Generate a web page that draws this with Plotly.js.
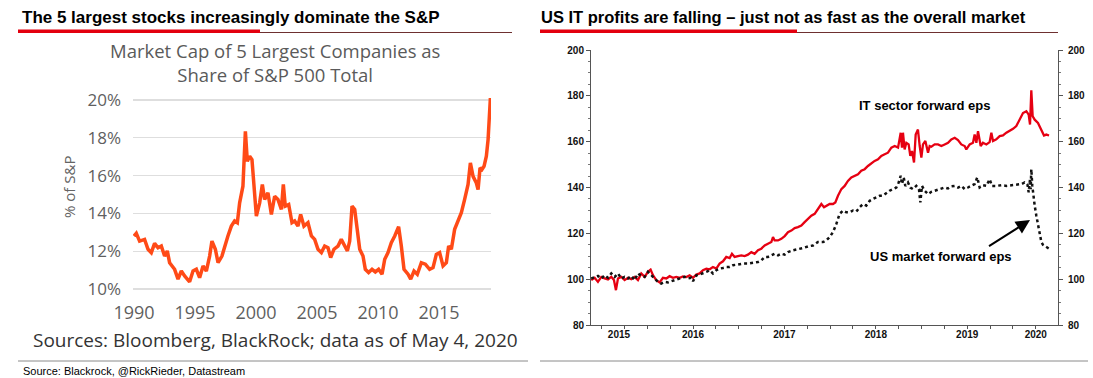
<!DOCTYPE html>
<html><head><meta charset="utf-8">
<script src="https://cdn.plot.ly/plotly-3.0.1.min.js"></script>
<style>html,body{margin:0;padding:0;background:#fff}#chart{width:1093px;height:378px}</style>
</head><body><div id="chart"></div>
<script>
// ---- Left panel: market cap share of 5 largest companies ----
const shareYears = [1990.0,1990.19,1990.46,1990.87,1991.15,1991.42,1991.69,1991.97,1992.24,1992.51,1992.73,1992.92,1993.33,1993.61,1993.88,1994.15,1994.56,1994.84,1995.11,1995.38,1995.66,1995.93,1996.20,1996.39,1996.67,1996.89,1997.21,1997.49,1997.70,1997.98,1998.25,1998.47,1998.66,1998.93,1999.13,1999.29,1999.48,1999.67,1999.84,2000.03,2000.30,2000.52,2000.71,2000.98,2001.26,2001.53,2001.80,2002.08,2002.24,2002.40,2002.68,2002.95,2003.17,2003.44,2003.66,2003.93,2004.26,2004.54,2004.81,2005.08,2005.36,2005.63,2005.90,2006.12,2006.39,2006.72,2006.99,2007.27,2007.49,2007.68,2007.87,2008.09,2008.31,2008.50,2008.77,2008.96,2009.23,2009.51,2009.78,2010.05,2010.33,2010.55,2010.82,2011.09,2011.37,2011.69,2011.91,2012.13,2012.46,2012.68,2012.95,2013.22,2013.55,2013.88,2014.23,2014.51,2014.78,2015.05,2015.33,2015.60,2015.79,2016.01,2016.28,2016.56,2016.83,2017.10,2017.38,2017.57,2017.79,2018.06,2018.20,2018.36,2018.52,2018.69,2018.88,2019.02,2019.21];
const sharePct = [12.81,12.95,12.54,12.63,12.11,11.93,12.42,12.19,12.28,11.75,12.02,11.40,11.05,10.53,10.96,10.70,10.39,10.96,11.05,10.61,11.23,10.96,11.75,12.54,12.11,11.40,11.75,12.46,12.81,13.33,13.60,13.51,14.56,15.44,18.33,16.75,17.02,16.84,15.26,13.86,14.56,15.53,14.74,15.09,13.95,14.91,14.74,14.21,15.53,14.39,14.47,13.51,13.60,13.33,13.95,13.33,13.51,12.81,12.63,12.11,11.93,12.28,12.19,11.67,12.11,12.28,12.63,12.28,12.02,12.54,14.39,14.21,13.16,12.11,11.75,11.05,10.88,11.05,10.91,11.05,10.79,11.58,11.93,12.46,12.81,13.30,12.28,11.05,10.79,10.53,10.96,10.79,11.40,11.32,11.05,11.14,11.84,11.93,11.23,11.40,12.28,12.11,13.16,13.68,14.04,14.74,15.53,16.67,15.96,15.61,15.26,16.40,16.32,16.49,17.02,17.89,20.09];
const shareTickYears = [1990,1995,2000,2005,2010,2015];
const shareTickPct = [10,12,14,16,18,20];

// ---- Right panel: forward EPS indexed ----
const epsDatesIT = [2015.387,2015.424,2015.460,2015.497,2015.533,2015.570,2015.606,2015.635,2015.657,2015.679,2015.716,2015.752,2015.788,2015.825,2015.861,2015.898,2015.934,2015.971,2016.007,2016.036,2016.062,2016.098,2016.135,2016.171,2016.208,2016.244,2016.281,2016.317,2016.354,2016.390,2016.427,2016.463,2016.500,2016.536,2016.573,2016.609,2016.646,2016.682,2016.718,2016.755,2016.791,2016.828,2016.864,2016.901,2016.926,2016.955,2016.992,2017.028,2017.065,2017.101,2017.138,2017.174,2017.211,2017.247,2017.284,2017.320,2017.357,2017.375,2017.393,2017.430,2017.466,2017.503,2017.539,2017.576,2017.612,2017.648,2017.685,2017.721,2017.758,2017.794,2017.831,2017.867,2017.904,2017.933,2017.958,2017.995,2018.031,2018.057,2018.086,2018.123,2018.159,2018.195,2018.232,2018.268,2018.305,2018.341,2018.378,2018.414,2018.451,2018.487,2018.524,2018.560,2018.597,2018.633,2018.670,2018.706,2018.743,2018.772,2018.786,2018.797,2018.815,2018.834,2018.859,2018.877,2018.896,2018.918,2018.936,2018.961,2018.980,2018.998,2019.016,2019.042,2019.071,2019.089,2019.107,2019.144,2019.180,2019.217,2019.253,2019.290,2019.326,2019.363,2019.399,2019.435,2019.472,2019.490,2019.527,2019.563,2019.581,2019.600,2019.618,2019.647,2019.672,2019.709,2019.745,2019.764,2019.782,2019.818,2019.855,2019.891,2019.928,2019.964,2020.001,2020.037,2020.074,2020.110,2020.147,2020.172,2020.187,2020.201,2020.216,2020.238,2020.274,2020.311,2020.340,2020.365,2020.395];
const epsIT = [99.6,100.6,98.8,101.0,100.3,99.9,101.0,99.6,95.2,100.3,101.0,99.6,100.6,100.0,101.0,99.6,102.5,101.0,103.2,104.2,101.7,99.6,98.6,100.6,100.3,101.3,100.6,101.0,100.6,101.2,100.9,101.7,100.6,102.0,102.5,103.9,104.6,104.3,105.3,104.6,106.8,107.8,109.7,109.2,111.1,109.7,110.1,110.4,110.1,110.7,111.8,111.1,112.6,113.3,114.7,115.5,116.2,118.4,116.9,116.9,117.6,118.8,120.5,121.2,122.3,122.7,123.4,124.9,126.3,127.7,128.5,130.6,132.8,131.4,132.1,132.8,132.8,133.5,136.4,139.3,140.7,142.9,144.4,145.1,145.8,147.3,148.0,149.4,150.6,151.6,152.3,153.8,154.5,155.2,157.4,158.1,157.4,163.9,157.4,163.9,156.6,159.5,158.8,153.8,155.9,150.9,163.1,165.3,158.1,153.0,158.8,160.3,155.2,158.1,157.8,158.8,158.8,158.1,158.8,159.5,161.0,161.7,160.7,158.8,158.1,156.6,158.8,159.5,163.1,159.5,164.6,158.1,159.5,158.8,159.8,163.9,160.3,161.0,162.4,162.7,163.9,164.6,165.6,166.8,169.6,172.5,173.3,171.8,167.5,182.4,171.1,169.6,168.2,165.3,162.7,163.1,162.7];
const epsDatesMkt = [2015.387,2015.424,2015.460,2015.497,2015.533,2015.570,2015.606,2015.643,2015.679,2015.716,2015.752,2015.788,2015.825,2015.861,2015.898,2015.934,2015.971,2016.007,2016.044,2016.080,2016.117,2016.153,2016.190,2016.226,2016.263,2016.299,2016.336,2016.372,2016.408,2016.445,2016.481,2016.500,2016.536,2016.573,2016.609,2016.646,2016.682,2016.718,2016.755,2016.791,2016.828,2016.864,2016.901,2016.937,2016.992,2017.047,2017.101,2017.156,2017.211,2017.247,2017.284,2017.320,2017.357,2017.393,2017.430,2017.466,2017.503,2017.539,2017.594,2017.648,2017.703,2017.758,2017.813,2017.867,2017.922,2017.958,2017.995,2018.031,2018.068,2018.104,2018.141,2018.177,2018.214,2018.250,2018.287,2018.323,2018.360,2018.396,2018.433,2018.469,2018.505,2018.542,2018.578,2018.615,2018.651,2018.688,2018.724,2018.750,2018.772,2018.786,2018.805,2018.823,2018.852,2018.877,2018.907,2018.943,2018.972,2018.987,2019.005,2019.034,2019.071,2019.107,2019.144,2019.180,2019.217,2019.253,2019.290,2019.326,2019.363,2019.399,2019.435,2019.472,2019.508,2019.545,2019.581,2019.610,2019.636,2019.672,2019.709,2019.745,2019.771,2019.818,2019.873,2019.928,2019.982,2020.037,2020.092,2020.128,2020.158,2020.172,2020.187,2020.194,2020.201,2020.212,2020.223,2020.238,2020.256,2020.274,2020.293,2020.311,2020.329,2020.365,2020.395];
const epsMkt = [100.3,101.0,101.4,100.3,101.7,100.6,102.5,101.0,102.5,100.3,101.0,100.3,101.4,99.6,102.5,101.4,101.0,103.2,101.7,100.6,98.8,98.1,98.8,98.6,99.1,99.6,100.3,100.6,101.0,100.3,100.6,99.1,101.7,102.0,102.5,103.2,103.9,102.5,103.9,104.6,104.9,105.3,105.3,106.1,106.4,106.8,106.8,107.2,107.5,108.2,109.7,109.7,110.4,111.1,110.4,111.1,110.7,111.8,112.6,113.0,113.6,114.3,114.7,116.2,116.2,116.9,118.4,120.5,124.1,128.5,129.9,129.2,129.2,129.9,129.5,131.4,132.8,132.1,134.2,135.0,135.7,136.4,136.4,137.6,138.6,139.3,140.0,142.2,145.1,141.5,144.4,140.7,142.2,140.0,139.3,140.7,139.3,133.5,140.7,138.6,137.1,138.1,138.6,139.0,139.3,140.0,139.6,140.5,140.7,140.0,140.7,139.3,140.0,140.7,141.5,144.4,140.0,141.0,140.7,143.6,140.7,140.7,141.0,140.7,141.0,141.5,141.5,142.2,141.5,137.9,143.6,139.3,148.0,140.7,136.4,132.1,127.7,123.4,119.8,116.2,115.0,114.0,113.3];
const epsYearLabels = ['2015','2016','2017','2018','2019','2020'];
const epsYearLabelPos = [2015.69,2016.5,2017.5,2018.5,2019.5,2020.25];

// ---- layout helpers (pixel -> paper) ----
const W = 1093, H = 378;
const fx = p => p / W;
const fy = p => 1 - p / H;

const grayFontY = {family: 'Open Sans', size: 17, color: '#5f5f5f'};
const grayFontX = {family: 'Open Sans', size: 18, color: '#5f5f5f'};
const boldSmall = {family: 'Liberation Sans, Arial', size: 10, color: '#111', weight: 'bold'};

const traces = [
  {x: shareYears, y: sharePct, type: 'scatter', mode: 'lines', xaxis: 'x', yaxis: 'y',
   line: {color: '#ff4a17', width: 3.5}, hoverinfo: 'skip'},
  {x: epsDatesIT, y: epsIT, type: 'scatter', mode: 'lines', xaxis: 'x2', yaxis: 'y3',
   line: {color: '#e60012', width: 2.3}, hoverinfo: 'skip'},
  {x: epsDatesMkt, y: epsMkt, type: 'scatter', mode: 'lines', xaxis: 'x3', yaxis: 'y4',
   line: {color: '#111', width: 2.5, dash: 'dot'}, hoverinfo: 'skip'}
];

function hline(x0, x1, y, color, w) {
  return {type: 'line', xref: 'paper', yref: 'paper', x0: fx(x0), x1: fx(x1), y0: fy(y), y1: fy(y),
          line: {color: color, width: w}};
}
function rect(x0, x1, y0, y1, color) {
  return {type: 'rect', xref: 'paper', yref: 'paper', x0: fx(x0), x1: fx(x1), y0: fy(y1), y1: fy(y0),
          fillcolor: color, line: {width: 0}};
}
function paperText(text, x, y, xanchor, font, extra) {
  return Object.assign({xref: 'paper', yref: 'paper', x: fx(x), y: fy(y), xanchor: xanchor, yanchor: 'middle',
                        showarrow: false, text: text, font: font}, extra || {});
}

const titleFont = {family: 'Open Sans', size: 18.5, color: '#5a5a5a'};

const layout = {
  width: W, height: H,
  margin: {l: 0, r: 0, t: 0, b: 0},
  paper_bgcolor: '#fff', plot_bgcolor: 'rgba(0,0,0,0)',
  showlegend: false,
  xaxis: {domain: [fx(133), fx(491)], range: [1989.92, 2019.26], anchor: 'y',
          tickmode: 'array', tickvals: shareTickYears, ticktext: shareTickYears.map(String),
          showgrid: false, zeroline: false, showline: false, ticks: '',
          tickfont: grayFontX, ticklabelstandoff: 7},
  yaxis: {domain: [fy(293), fy(96)], range: [9.8, 20.2], anchor: 'x',
          tickmode: 'array', tickvals: shareTickPct, ticktext: shareTickPct.map(v => v + '%'),
          showgrid: true, gridcolor: '#dedede', gridwidth: 1.5, zeroline: false, showline: false, ticks: '',
          tickfont: grayFontY, ticklabelstandoff: 11},
  xaxis2: {domain: [fx(591), fx(1058)], range: [2015.384, 2020.493], anchor: 'y3',
           tick0: 2015, dtick: 0.25, ticks: 'outside', ticklen: 3, tickcolor: '#555',
           showticklabels: false, showline: true, linecolor: '#555', linewidth: 1,
           showgrid: false, zeroline: false},
  xaxis3: {domain: [fx(591), fx(1058)], range: [2015.384, 2020.493], anchor: 'y4', overlaying: 'x2',
           tickmode: 'array', tickvals: epsYearLabelPos, ticktext: epsYearLabels, ticks: '',
           showline: false, showgrid: false, zeroline: false, tickfont: boldSmall, ticklabelstandoff: 2},
  yaxis3: {domain: [fy(325), fy(50)], range: [80, 200], anchor: 'x2',
           tick0: 80, dtick: 20, ticks: 'outside', ticklen: 4, tickcolor: '#555',
           showline: true, linecolor: '#555', linewidth: 1, showgrid: false, zeroline: false,
           tickfont: boldSmall, minor: {dtick: 5, ticks: 'outside', ticklen: 2, tickcolor: '#777'}},
  yaxis4: {domain: [fy(325), fy(50)], range: [80, 200], anchor: 'x3', overlaying: 'y3', side: 'right',
           tick0: 80, dtick: 20, ticks: 'outside', ticklen: 4, tickcolor: '#555',
           showline: true, linecolor: '#555', linewidth: 1, showgrid: false, zeroline: false,
           tickfont: boldSmall, ticklabelstandoff: 3,
           minor: {dtick: 5, ticks: 'outside', ticklen: 2, tickcolor: '#777'}},
  shapes: [
    rect(18, 260, 29.5, 33, '#e3000f'),
    hline(260, 512, 32.5, '#6e3030', 1),
    rect(540, 797, 29.5, 33, '#e3000f'),
    hline(797, 1058, 32.5, '#6e3030', 1),
    hline(18, 528, 361, '#8a8a8a', 1),
    hline(540, 1088, 361, '#8a8a8a', 1)
  ],
  annotations: [
    paperText('The 5 largest stocks increasingly dominate the S&P', 20, 17, 'left',
              {family: 'Liberation Sans, Arial', size: 17, color: '#000', weight: 'bold'}),
    paperText('US IT profits are falling – just not as fast as the overall market', 539, 17, 'left',
              {family: 'Liberation Sans, Arial', size: 16.5, color: '#000', weight: 'bold'}),
    paperText('Market Cap of 5 Largest Companies as<br>Share of S&P 500 Total', 275, 63, 'center', titleFont),
    paperText('% of S&P', 69, 187, 'center', {family: 'Open Sans', size: 15, color: '#646464'}, {textangle: -90}),
    paperText('Sources: Bloomberg, BlackRock; data as of May 4, 2020', 275, 340, 'center',
              {family: 'Open Sans', size: 19, color: '#333'}),
    paperText('Source: Blackrock, @RickRieder, Datastream', 21, 371, 'left',
              {family: 'Liberation Sans, Arial', size: 11, color: '#000'}),
    {xref: 'x2', yref: 'y3', x: 2019.027, y: 176.0, xanchor: 'center', yanchor: 'middle', showarrow: false,
     text: 'IT sector forward eps',
     font: {family: 'Liberation Sans, Arial', size: 13, color: '#000', weight: 'bold'}},
    {xref: 'x2', yref: 'y3', x: 2019.213, y: 110.1, xanchor: 'center', yanchor: 'middle', showarrow: false,
     text: 'US market forward eps',
     font: {family: 'Liberation Sans, Arial', size: 13, color: '#000', weight: 'bold'}},
    {xref: 'x2', yref: 'y3', x: 2020.187, y: 125.8, ax: -44, ay: 28, text: ' ', showarrow: true,
     arrowhead: 2, arrowsize: 1.4, arrowwidth: 2, arrowcolor: '#000', standoff: 0, startstandoff: 0}
  ]
};

Plotly.newPlot('chart', traces, layout, {staticPlot: true, displayModeBar: false});
</script>
</body></html>
